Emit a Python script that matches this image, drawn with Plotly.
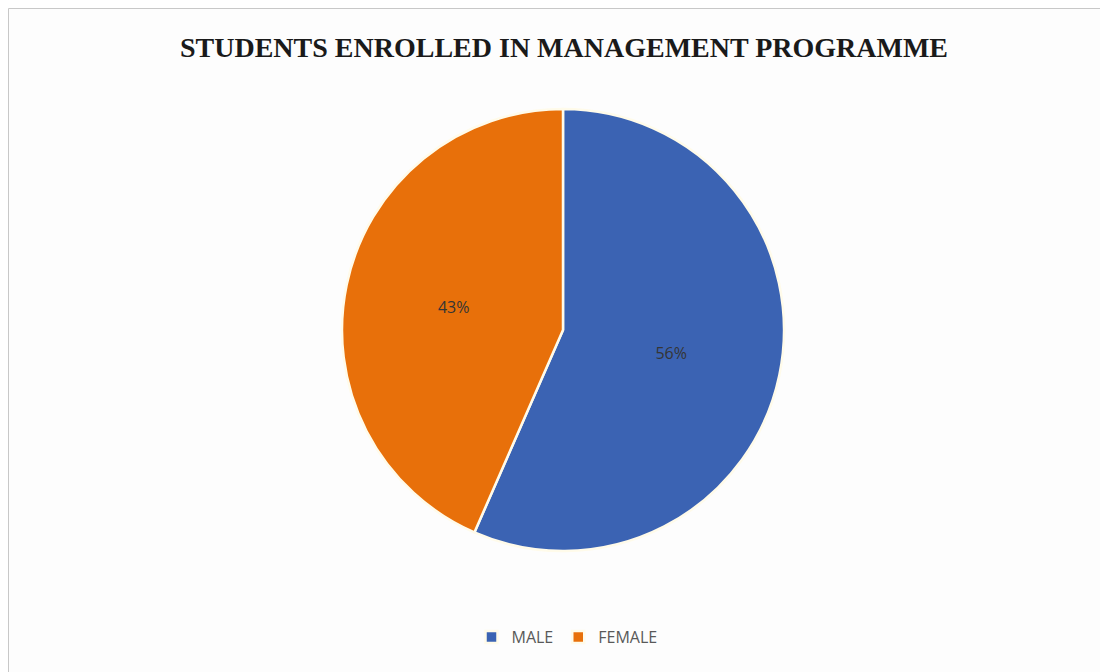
import plotly.graph_objects as go

categories = ["MALE", "FEMALE"]
values = [56, 43]
colors = ["#3B63B3", "#E8700A"]

# page body has an 8px margin, so figure coordinates = screenshot coordinates - 8
OFF = 8
W, H = 1108, 672
cx, cy, r = 563 - OFF, 330 - OFF, 221

fig = go.Figure(go.Pie(
    labels=categories,
    values=values,
    sort=False,
    direction="clockwise",
    rotation=0,
    marker=dict(colors=colors, line=dict(color="#FFFBEA", width=2.5)),
    texttemplate="%{value}%",
    textposition="inside",
    insidetextorientation="horizontal",
    textfont=dict(family="Open Sans, Liberation Sans, sans-serif", size=16, color="#353535"),
    hoverinfo="label+percent",
    domain=dict(x=[(cx - r) / W, (cx + r) / W], y=[(H - cy - r) / H, (H - cy + r) / H]),
))

fig.update_layout(
    width=W, height=H,
    margin=dict(l=0, r=0, t=0, b=0),
    paper_bgcolor="#FDFDFD",
    title=dict(text="<b>STUDENTS ENROLLED IN MANAGEMENT PROGRAMME</b>",
               x=(564 - OFF) / W, xanchor="center", y=1 - (47 - OFF) / H, yanchor="middle",
               font=dict(family="Liberation Serif, DejaVu Serif, serif", size=28, color="#1a1a1a")),
    showlegend=True,
    legend=dict(orientation="h", x=(567 - OFF) / W, xanchor="center", y=1 - (637 - OFF) / H, yanchor="middle",
                font=dict(family="Open Sans, Liberation Sans, sans-serif", size=16, color="#595959"),
                itemwidth=30, bgcolor="rgba(0,0,0,0)"),
    shapes=[
        dict(type="line", xref="paper", yref="paper", x0=0.5 / W, x1=1, y0=1 - 0.5 / H, y1=1 - 0.5 / H,
             line=dict(color="#C8C8C8", width=1)),
        dict(type="line", xref="paper", yref="paper", x0=0.5 / W, x1=0.5 / W, y0=0, y1=1 - 0.5 / H,
             line=dict(color="#C8C8C8", width=1)),
    ],
)

fig.write_html("out.html")
